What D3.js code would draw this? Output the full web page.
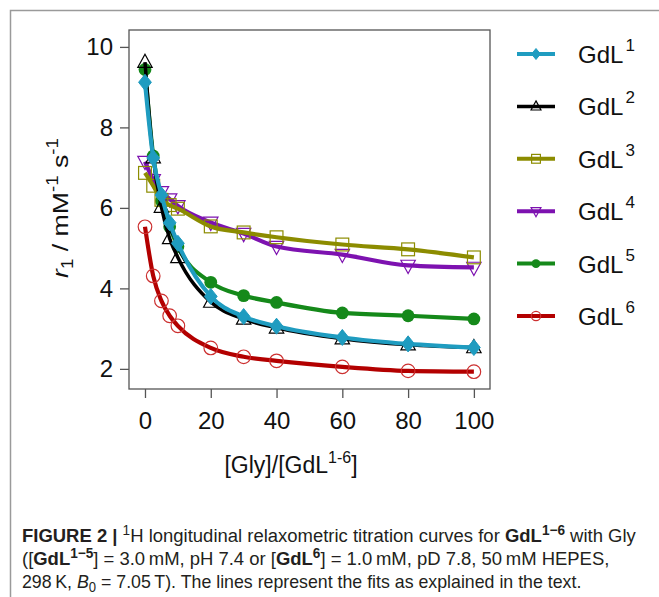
<!DOCTYPE html>
<html>
<head>
<meta charset="utf-8">
<script src="https://cdn.jsdelivr.net/npm/d3@7"></script>
<style>
  body { margin: 0; background: #fff; }
  svg { display: block; font-family: "Liberation Sans", Arial, sans-serif; }
</style>
</head>
<body>
<div id="chart"></div>
<script>
// Glycine / complex ratio
const ratio = [0, 2.5, 5, 7.5, 10, 20, 30, 40, 60, 80, 100];

// r1 values (mM-1 s-1) for each complex
const gdl1 = [9.12, 7.24, 6.32, 5.63, 5.12, 3.80, 3.30, 3.06, 2.78, 2.62, 2.53];
const gdl2 = [9.62, 7.25, 6.02, 5.24, 4.77, 3.66, 3.24, 3.02, 2.75, 2.60, 2.53];
const gdl3 = [6.87, 6.55, 6.20, 6.07, 5.98, 5.54, 5.39, 5.27, 5.09, 4.97, 4.77];
const gdl4 = [7.15, 6.70, 6.40, 6.22, 6.05, 5.64, 5.36, 5.04, 4.84, 4.57, 4.52];
const gdl5 = [9.44, 7.29, 6.17, 5.53, 5.04, 4.15, 3.82, 3.65, 3.39, 3.32, 3.24];
const gdl6 = [5.53, 4.31, 3.69, 3.32, 3.07, 2.52, 2.30, 2.20, 2.05, 1.95, 1.93];

const names = ['1', '2', '3', '4', '5', '6'];
const colors = ['#1f9cc0', '#000000', '#8c8c00', '#7d12b0', '#15891a', '#b30000'];
const shapes = ['diamond', 'triangle', 'square', 'triangleDown', 'circleFill', 'circleOpen'];
const values = [gdl1, gdl2, gdl3, gdl4, gdl5, gdl6];

const xTicks = [0, 20, 40, 60, 80, 100];
const yTicks = [2, 4, 6, 8, 10];

const W = 659, H = 597;
const svg = d3.select('#chart').append('svg')
    .attr('width', W).attr('height', H);

// figure frame (left and top rules)
svg.append('path')
    .attr('d', `M10.5,${H} V10.5 H${W}`)
    .attr('fill', 'none')
    .attr('stroke', '#9a9a9a')
    .attr('stroke-width', 1.5);

// plot box
const box = {left: 129, right: 490, top: 30, bottom: 389};
const x = d3.scaleLinear().domain([-4.86, 104.9]).range([box.left, box.right]);
const y = d3.scaleLinear().domain([1.5, 10.42]).range([box.bottom, box.top]);

svg.append('rect')
    .attr('x', box.left).attr('y', box.top)
    .attr('width', box.right - box.left).attr('height', box.bottom - box.top)
    .attr('fill', 'none').attr('stroke', '#555').attr('stroke-width', 1.3);

// axes (R style: ticks outside the box, no axis line)
const xAxis = svg.append('g')
    .attr('transform', `translate(0,${box.bottom})`)
    .call(d3.axisBottom(x).tickValues(xTicks).tickSize(9).tickPadding(14));
const yAxis = svg.append('g')
    .attr('transform', `translate(${box.left},0)`)
    .call(d3.axisLeft(y).tickValues(yTicks).tickSize(9).tickPadding(7));
[xAxis, yAxis].forEach(g => {
    g.select('.domain').remove();
    g.selectAll('line').attr('stroke', '#555').attr('stroke-width', 1.3);
    g.selectAll('text')
        .style('font-family', '"Liberation Sans", Arial, sans-serif')
        .style('font-size', '24px')
        .attr('fill', '#111');
});

// axis titles
const xt = svg.append('text')
    .attr('x', 291).attr('y', 473)
    .attr('text-anchor', 'middle')
    .style('font-size', '23px').attr('fill', '#111');
xt.append('tspan').text('[Gly]/[GdL');
xt.append('tspan').attr('dy', -10).style('font-size', '16px').text('1-6');
xt.append('tspan').attr('dy', 10).text(']');

// y title: built at origin, then rotated, scaled to the reference length and centred
const ytg = svg.append('g');
const yt = ytg.append('text')
    .attr('x', 0).attr('y', 0)
    .style('font-size', '23px').attr('fill', '#111');
yt.append('tspan').style('font-style', 'italic').text('r');
yt.append('tspan').attr('dy', 5).style('font-size', '16px').text('1');
yt.append('tspan').attr('dy', -5).text(' / mM');
yt.append('tspan').attr('dy', -10).style('font-size', '16px').text('-1');
yt.append('tspan').attr('dy', 10).text(' s');
yt.append('tspan').attr('dy', -10).style('font-size', '16px').text('-1');
const ytLen = yt.node().getComputedTextLength();
const ytTarget = 140;
ytg.attr('transform', `translate(68,${208 + ytTarget / 2}) rotate(-90) scale(${ytTarget / ytLen},1)`);

// marker drawing
function marker(g, shape, color, s) {
    const sw = 1.2;
    switch (shape) {
        case 'diamond':
            g.append('path').attr('d', `M0,${-s}L${s * 0.8},0L0,${s}L${-s * 0.8},0Z`)
                .attr('fill', color).attr('stroke', color);
            break;
        case 'triangle':
            g.append('path').attr('d', `M0,${-s}L${s * 0.9},${s * 0.65}L${-s * 0.9},${s * 0.65}Z`)
                .attr('fill', 'none').attr('stroke', color).attr('stroke-width', sw);
            break;
        case 'triangleDown':
            g.append('path').attr('d', `M0,${s}L${s * 0.9},${-s * 0.65}L${-s * 0.9},${-s * 0.65}Z`)
                .attr('fill', 'none').attr('stroke', color).attr('stroke-width', sw);
            break;
        case 'square':
            g.append('rect').attr('x', -s * 0.8).attr('y', -s * 0.8)
                .attr('width', s * 1.6).attr('height', s * 1.6)
                .attr('fill', 'none').attr('stroke', color).attr('stroke-width', sw);
            break;
        case 'circleFill':
            g.append('circle').attr('r', s * 0.8).attr('fill', color);
            break;
        case 'circleOpen':
            g.append('circle').attr('r', s * 0.85)
                .attr('fill', 'none').attr('stroke', '#cc3030').attr('stroke-width', sw);
            break;
    }
}

const line = d3.line()
    .x(d => x(d[0]))
    .y(d => y(d[1]))
    .curve(d3.curveMonotoneX);

// draw series from last to first so GdL1 is on top
for (let i = values.length - 1; i >= 0; i--) {
    const pts = ratio.map((r, j) => [r, values[i][j]]);
    const g = svg.append('g');
    g.append('path')
        .attr('d', line(pts))
        .attr('fill', 'none')
        .attr('stroke', colors[i])
        .attr('stroke-width', i === 1 ? 3.5 : 4.2);
    pts.forEach(p => {
        const m = g.append('g').attr('transform', `translate(${x(p[0])},${y(p[1])})`);
        marker(m, shapes[i], colors[i], 8);
    });
}

// legend
const legendY = d3.scaleLinear().domain([0, 5]).range([54, 316]);
names.forEach((n, i) => {
    const ly = legendY(i);
    const g = svg.append('g');
    g.append('line')
        .attr('x1', 517).attr('x2', 555).attr('y1', ly).attr('y2', ly)
        .attr('stroke', colors[i]).attr('stroke-width', i === 1 ? 3.5 : 4);
    const m = g.append('g').attr('transform', `translate(536,${ly})`);
    marker(m, shapes[i], colors[i], 5.5);
    const t = g.append('text')
        .attr('x', 578).attr('y', ly + 9)
        .style('font-size', '24px').attr('fill', '#111');
    t.append('tspan').text('GdL');
    t.append('tspan').attr('dx', 2).attr('dy', -12).style('font-size', '17px').text(n);
});

// caption
const cap = svg.append('g')
    .style('font-family', '"Liberation Sans Narrow", "Liberation Sans", Arial, sans-serif')
    .style('font-size', '19px')
    .attr('fill', '#231f20');

const capLines = [
    {y: 542, w: 614, parts: [
        {t: 'FIGURE 2 | ', b: true},
        {t: '1', sup: true},
        {t: 'H longitudinal relaxometric titration curves for '},
        {t: 'GdL', b: true},
        {t: '1\u22126', b: true, sup: true},
        {t: ' with Gly'}
    ]},
    {y: 565, w: 588, parts: [
        {t: '(['},
        {t: 'GdL', b: true},
        {t: '1\u22125', b: true, sup: true},
        {t: '] = 3.0\u2009mM, pH 7.4 or ['},
        {t: 'GdL', b: true},
        {t: '6', b: true, sup: true},
        {t: '] = 1.0\u2009mM, pD 7.8, 50\u2009mM HEPES,'}
    ]},
    {y: 588, w: 560, parts: [
        {t: '298\u2009K, '},
        {t: 'B', i: true},
        {t: '0', sub: true},
        {t: ' = 7.05\u2009T). The lines represent the fits as explained in the text.'}
    ]}
];

capLines.forEach(L => {
    const t = cap.append('text').attr('x', 22).attr('y', L.y);
    let shift = 0;
    L.parts.forEach(p => {
        const target = p.sup ? -7 : (p.sub ? 4 : 0);
        const ts = t.append('tspan').text(p.t).attr('dy', target - shift);
        shift = target;
        if (p.b) ts.style('font-weight', 'bold');
        if (p.i) ts.style('font-style', 'italic');
        if (p.sup || p.sub) ts.style('font-size', '14px');
    });
    const w = t.node().getComputedTextLength();
    t.attr('transform', `translate(22,0) scale(${L.w / w},1) translate(-22,0)`);
});
</script>
</body>
</html>
